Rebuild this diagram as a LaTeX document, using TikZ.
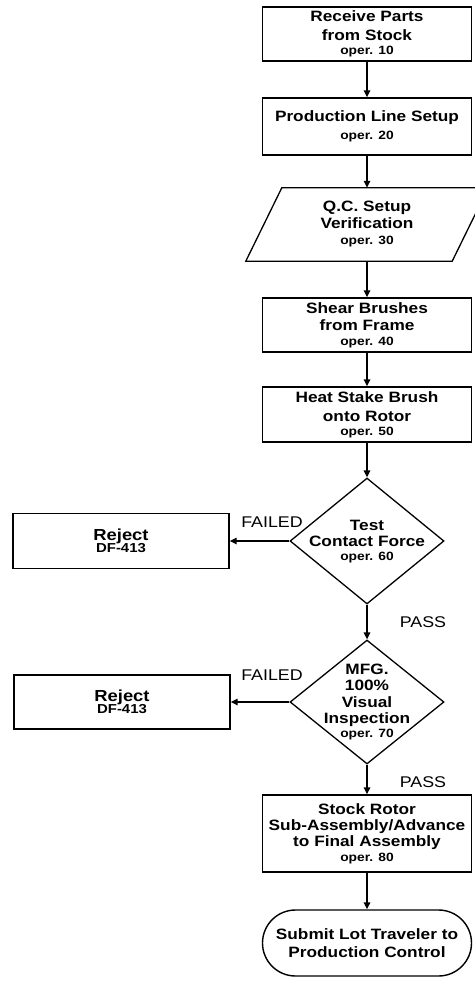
\documentclass[tikz,border=0pt]{standalone}
\usepackage{fontspec}
\setmainfont{Liberation Sans}[FakeStretch=1.15]
\usetikzlibrary{arrows.meta,shapes.geometric}
\newcommand\operline[1]{{\fontsize{12}{12}\selectfont oper. #1}}
\tikzset{
  stepbox/.style={draw, line width=1.4pt, minimum width=209pt, minimum height=55pt,
    inner sep=0pt, align=center, font=\bfseries\fontsize{15}{16}\selectfont},
  decide/.style={draw, diamond, line width=1.3pt, minimum width=154pt, minimum height=126pt,
    aspect=1.22, inner sep=0pt},
  dtext/.style={align=center, inner sep=0pt, font=\bfseries\fontsize{15}{16}\selectfont},
  lbl/.style={inner sep=0pt, font=\fontsize{15.5}{16}\selectfont},
  arr/.style={line width=1.5pt, -{Triangle[width=6.5pt,length=7pt]}}
}
\begin{document}
\begin{tikzpicture}[x=1pt,y=-1pt]
\useasboundingbox (0,0) rectangle (474,981);
\node[stepbox, minimum height=54pt] (b1) at (367,34) {Receive Parts\\[3pt]from Stock\\[-2pt]\operline{10}};
\node[stepbox, minimum height=57pt] (b2) at (367,126.5) {Production Line Setup\\[2pt]\operline{20}};
\node[minimum width=206pt, minimum height=73pt, inner sep=0pt, align=center,
  font=\bfseries\fontsize{15}{16}\selectfont] (p3) at (367,224.5) {Q.C. Setup\\[1pt]Verification\\[0pt]\operline{30}};
\draw[line width=1.3pt] ([xshift=-18pt]p3.south west) -- ([xshift=18pt]p3.north west)
  -- ([xshift=18pt]p3.north east) -- ([xshift=-18pt]p3.south east) -- cycle;
\node[stepbox, minimum height=54pt] (b4) at (367,325) {Shear Brushes\\[1pt]from Frame\\[-1pt]\operline{40}};
\node[stepbox] (b5) at (367,414.5) {Heat Stake Brush\\[3pt]onto Rotor\\[-2pt]\operline{50}};
\node[decide] (d6) at (367,541) {};
\node[dtext] (d6t) at (367,542) {Test\\[0pt]Contact Force\\[-2pt]\operline{60}};
\node[stepbox, minimum width=216pt] (r7) at (121,541) {{\fontsize{16}{16}\selectfont Reject}\\[-4pt]{\fontsize{13}{13}\selectfont DF-413}};
\node[decide, minimum height=124pt] (d8) at (367,702) {};
\node[dtext, font=\bfseries\fontsize{15}{16.5}\selectfont] (d8t) at (367,702) {MFG.\\100\%\\Visual\\Inspection\\[-3pt]\operline{70}};
\node[stepbox, minimum width=216pt, minimum height=54pt] (r8) at (122,702) {{\fontsize{16}{16}\selectfont Reject}\\[-4pt]{\fontsize{13}{13}\selectfont DF-413}};
\node[stepbox, minimum height=77pt] (b9) at (367,833.5) {Stock Rotor\\Sub-Assembly/Advance\\to Final Assembly\\[-1pt]\operline{80}};
\node[stepbox, rounded corners=33pt, minimum height=66pt] (t10) at (367,943) {Submit Lot Traveler to\\[2pt]Production Control};
\node[lbl] (f1) at (272,522) {FAILED};
\node[lbl] (f2) at (272,675) {FAILED};
\node[lbl] (s1) at (423,622) {PASS};
\node[lbl] (s2) at (423,782) {PASS};
\draw[arr] (b1) -- (b2);
\draw[arr] (b2) -- (p3);
\draw[arr] (p3) -- (b4);
\draw[arr] (b4) -- (b5);
\draw[arr] (b5) -- (d6);
\draw[arr] (d6) -- (d8);
\draw[arr] (d8) -- (b9);
\draw[arr] (b9) -- (t10);
\draw[arr] (d6.west) -- (r7.east);
\draw[arr] (d8.west) -- (r8.east);
\end{tikzpicture}
\end{document}
